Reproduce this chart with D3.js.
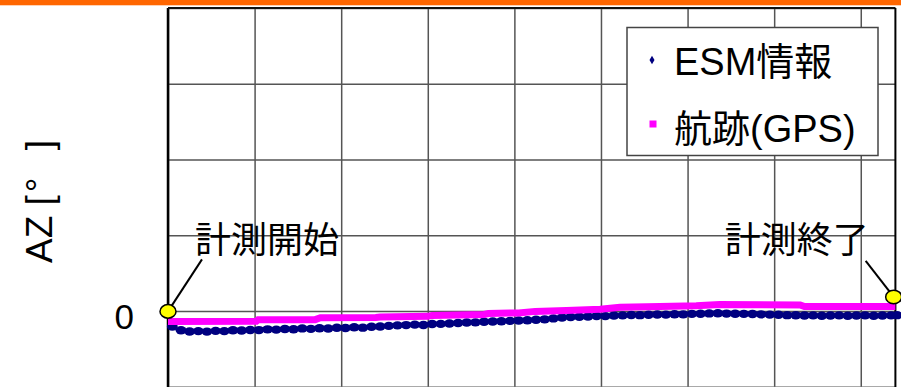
<!DOCTYPE html>
<html>
<head>
<meta charset="utf-8">
<script src="https://cdn.jsdelivr.net/npm/d3@7"></script>
<style>
  body { margin: 0; background: #fff; }
  text { font-family: "Liberation Sans", Arial, "Noto Sans CJK JP", sans-serif; fill: #000; }
</style>
</head>
<body>
<div id="graf"></div>
<script>
// Datos
const xTicks = [0, 1, 2, 3, 4, 5, 6, 7, 8]
const yTicks = [-10, 0, 10, 20, 30, 40]
const yLabels = { 0: "0" }

const esmT = [0.05, 0.15, 0.25, 0.35, 0.45, 0.55, 0.65, 0.75, 0.85, 0.95,
  1.05, 1.15, 1.25, 1.35, 1.45, 1.55, 1.65, 1.75, 1.85, 1.95,
  2.05, 2.15, 2.25, 2.35, 2.45, 2.55, 2.65, 2.75, 2.85, 2.95,
  3.05, 3.15, 3.25, 3.35, 3.45, 3.55, 3.65, 3.75, 3.85, 3.95,
  4.05, 4.15, 4.25, 4.35, 4.45, 4.55, 4.65, 4.75, 4.85, 4.95,
  5.05, 5.15, 5.25, 5.35, 5.45, 5.55, 5.65, 5.75, 5.85, 5.95,
  6.05, 6.15, 6.25, 6.35, 6.45, 6.55, 6.65, 6.75, 6.85, 6.95,
  7.05, 7.15, 7.25, 7.35, 7.45, 7.55, 7.65, 7.75, 7.85, 7.95,
  8.05, 8.15, 8.25, 8.35, 8.42]
const esmV = [-2.05, -2.55, -2.70, -2.66, -2.72, -2.62, -2.66, -2.55, -2.58, -2.50,
  -2.52, -2.42, -2.46, -2.38, -2.40, -2.30, -2.36, -2.28, -2.31, -2.22,
  -2.25, -2.15, -2.20, -2.08, -2.05, -1.96, -1.90, -1.86, -1.80, -1.84,
  -1.72, -1.70, -1.66, -1.58, -1.52, -1.50, -1.42, -1.38, -1.36, -1.30,
  -1.26, -1.22, -1.16, -1.10, -0.98, -0.86, -0.80, -0.76, -0.72, -0.66,
  -0.68, -0.60, -0.58, -0.52, -0.55, -0.50, -0.46, -0.48, -0.42, -0.44,
  -0.38, -0.36, -0.32, -0.30, -0.34, -0.36, -0.38, -0.40, -0.44, -0.48,
  -0.50, -0.55, -0.56, -0.60, -0.58, -0.62, -0.60, -0.58, -0.62, -0.60,
  -0.58, -0.62, -0.60, -0.58, -0.55]

const gpsT = [0.00, 1.02, 1.04, 1.70, 1.76, 2.40, 2.45, 3.00, 3.05, 3.65, 3.70,
  4.05, 4.24, 4.60, 4.99, 5.22, 5.68, 6.10, 6.37, 7.30, 7.35, 8.40]
const gpsV = [-1.38, -1.36, -1.16, -1.14, -0.90, -0.86, -0.78, -0.70, -0.58, -0.45, -0.33,
  -0.25, -0.05, 0.05, 0.22, 0.50, 0.60, 0.70, 0.85, 0.80, 0.58, 0.58]

const marcas = ["計測開始", "計測終了"]
const marcaT = [0, 8.38]
const marcaV = [-0.05, 1.85]

const series = ["ESM情報", "航跡(GPS)"]

// Dimensiones
const anchoTotal = 901
const altoTotal = 387
const margins = { top: 8, left: 168 }
const ancho = 727.4
const alto = 378.75

const svg = d3.select("#graf")
  .append("svg")
  .attr("width", anchoTotal)
  .attr("height", altoTotal)

// barra superior
svg.append("rect").attr("x", 0).attr("y", 0).attr("width", anchoTotal).attr("height", 5).attr("fill", "#ff6600")
svg.append("rect").attr("x", 0).attr("y", 5).attr("width", anchoTotal).attr("height", 1).attr("fill", "#ffd2b4")

const g = svg.append("g").attr("transform", `translate(${margins.left}, ${margins.top})`)

// Escaladores
const x = d3.scaleLinear().domain([0, 8.4]).range([0, ancho])
const y = d3.scaleLinear().domain([-10, 40]).range([alto, 0])

// Rejilla
g.append("g")
  .attr("transform", `translate(0, ${alto})`)
  .call(d3.axisBottom(x).tickValues(xTicks).tickSize(-alto).tickFormat(""))
  .call((a) => a.select(".domain").remove())
  .selectAll("line").attr("stroke", "#555").attr("stroke-width", 1.5)

g.append("g")
  .call(d3.axisLeft(y).tickValues(yTicks).tickSize(-ancho).tickFormat(""))
  .call((a) => a.select(".domain").remove())
  .selectAll("line").attr("stroke", "#555").attr("stroke-width", 1.5)

g.select("g:last-child").selectAll(".tick").filter((d) => d === 0).select("line").attr("stroke", "#222")

// Etiquetas eje Y
g.append("g")
  .call(d3.axisLeft(y).tickValues(yTicks).tickSize(0).tickPadding(34).tickFormat((d) => yLabels[d] || ""))
  .call((a) => a.select(".domain").remove())
  .selectAll("text")
  .attr("font-size", 35)
  .attr("dy", "0.5em")
  .style("font-family", '"Liberation Sans", Arial, sans-serif')

// Bordes
g.append("line").attr("x1", 0).attr("x2", 0).attr("y1", 0).attr("y2", alto + 2).attr("stroke", "#000").attr("stroke-width", 2.5)
g.append("line").attr("x1", 0).attr("x2", ancho).attr("y1", 0).attr("y2", 0).attr("stroke", "#111").attr("stroke-width", 2)
g.append("line").attr("x1", ancho).attr("x2", ancho).attr("y1", 0).attr("y2", alto + 2).attr("stroke", "#000").attr("stroke-width", 2)

// Serie ESM
const esm = esmT.map((t, i) => ({ t, v: esmV[i] }))
g.append("g")
  .selectAll("ellipse")
  .data(esm)
  .enter()
  .append("ellipse")
  .attr("cx", (d) => x(d.t))
  .attr("cy", (d) => y(d.v))
  .attr("rx", 5.4)
  .attr("ry", 4.2)
  .attr("fill", "#000080")

// Serie GPS
const gps = gpsT.map((t, i) => ({ t, v: gpsV[i] }))
g.append("path")
  .datum(gps)
  .attr("fill", "none")
  .attr("stroke", "#ff00ff")
  .attr("stroke-width", 7)
  .attr("d", d3.line().x((d) => x(d.t)).y((d) => y(d.v)))

// Marcas inicio / fin
const mk = marcas.map((m, i) => ({ m, t: marcaT[i], v: marcaV[i] }))
const lead = [[34, -52], [-28, -36]]
const txtOff = [[27, -58], [-25, -44]]

g.selectAll(".lead")
  .data(mk)
  .enter()
  .append("line")
  .attr("x1", (d) => x(d.t))
  .attr("y1", (d) => y(d.v))
  .attr("x2", (d, i) => x(d.t) + lead[i][0])
  .attr("y2", (d, i) => y(d.v) + lead[i][1])
  .attr("stroke", "#000")
  .attr("stroke-width", 2)

g.selectAll(".pt")
  .data(mk)
  .enter()
  .append("ellipse")
  .attr("cx", (d) => x(d.t))
  .attr("cy", (d) => y(d.v))
  .attr("rx", 8)
  .attr("ry", 6.8)
  .attr("fill", "#ffff00")
  .attr("stroke", "#000")
  .attr("stroke-width", 1.5)

g.selectAll(".mtxt")
  .data(mk)
  .enter()
  .append("text")
  .attr("x", (d, i) => x(d.t) + txtOff[i][0])
  .attr("y", (d, i) => y(d.v) + txtOff[i][1])
  .attr("text-anchor", (d, i) => (i === 0 ? "start" : "end"))
  .attr("font-size", 36)
  .style("font-family", '"Noto Sans CJK JP", sans-serif')
  .text((d) => d.m)

// Titulo eje Y
const yt = svg.append("text")
  .attr("transform", "translate(52, 263) rotate(-90)")
  .attr("font-size", 37)
  .style("font-family", '"Liberation Sans", Arial, sans-serif')
yt.append("tspan").text("AZ [")
yt.append("tspan").attr("dx", 3).text("°")
yt.append("tspan").attr("dx", 27).text("]")

// Leyenda
const ley = svg.append("g")
ley.append("rect")
  .attr("x", 627).attr("y", 27.5).attr("width", 251).attr("height", 128)
  .attr("fill", "#fff").attr("stroke", "#444").attr("stroke-width", 1.5)

ley.append("path")
  .attr("transform", "translate(652, 60)")
  .attr("d", d3.symbol().type(d3.symbolDiamond).size(22)())
  .attr("fill", "#000080")
ley.append("rect")
  .attr("x", 649.5).attr("y", 120.5).attr("width", 7).attr("height", 7)
  .attr("fill", "#ff00ff")

ley.selectAll(".ltxt")
  .data(series)
  .enter()
  .append("text")
  .attr("x", 674)
  .attr("y", (d, i) => 75 + i * 67)
  .attr("font-size", 38)
  .text((d) => d)
</script>
</body>
</html>
